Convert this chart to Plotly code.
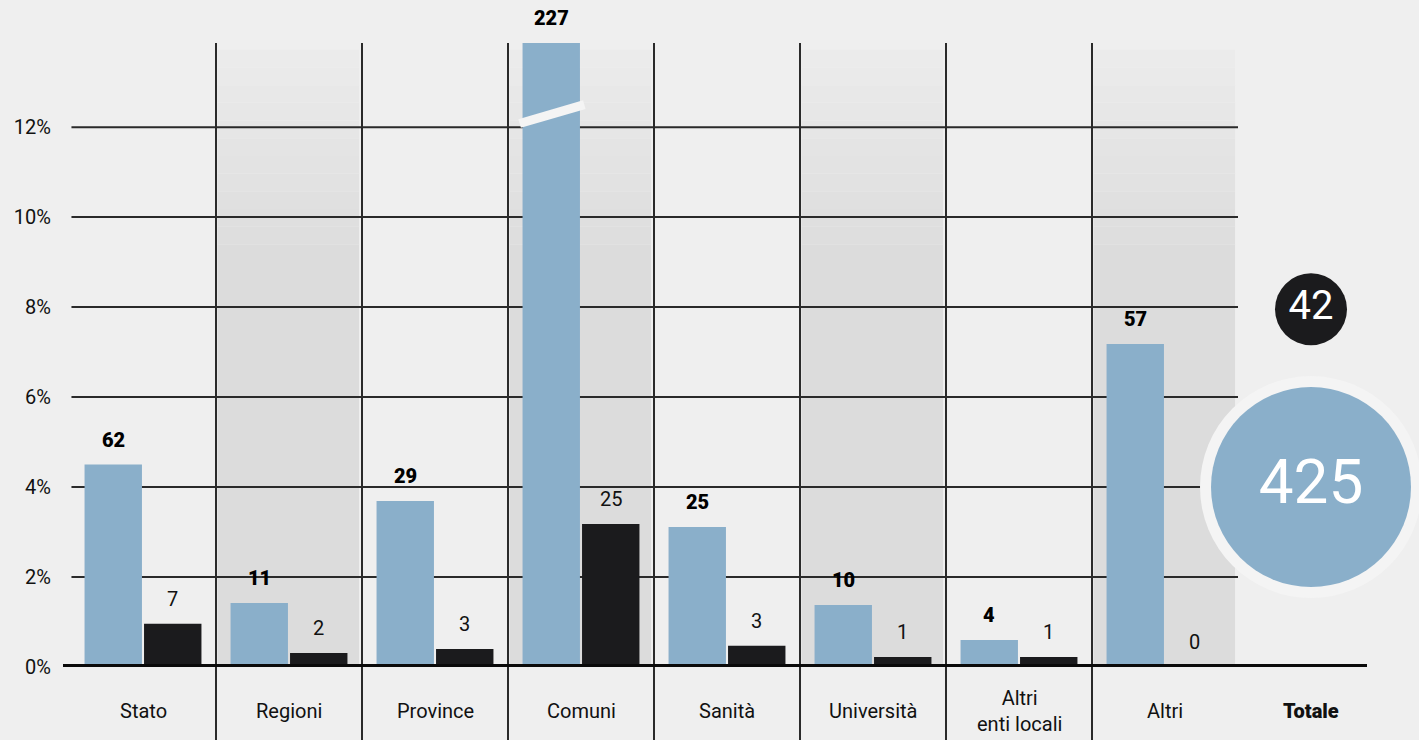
import plotly.graph_objects as go

# ---- data ----
categories = ["Stato", "Regioni", "Province", "Comuni", "Sanità", "Università", "Altri<br>enti locali", "Altri"]
total_label = "Totale"
blue_pct = [4.5, 1.42, 3.69, 15.0, 3.11, 1.38, 0.6, 7.18]   # Comuni bar is broken (off scale)
black_pct = [0.96, 0.31, 0.4, 3.18, 0.47, 0.22, 0.22, 0.0]
blue_n = [62, 11, 29, 227, 25, 10, 4, 57]
black_n = [7, 2, 3, 25, 3, 1, 1, 0]
totals = [425, 42]
y_ticks = [0, 2, 4, 6, 8, 10, 12]

# ---- style ----
BLUE = "#8aafca"
BLACK = "#1b1b1d"
BG = "#efefef"
SHADE = "#dcdcdc"
FONT = "Roboto, Arial, sans-serif"
YMAX = 13.87
W, H = 1419, 740
ML, MR, MT, MB = 70, 35, 43, 73

all_cats = categories + [total_label]
ncat = len(all_cats)
plot_w = W - ML - MR
plot_h = H - MT - MB
cat_px = plot_w / ncat
BARGAP = 0.185
GROUPGAP = 0.035
slot = (1 - BARGAP) / 2
off = slot / 2  # center offset in category units

fig = go.Figure()
fig.add_trace(go.Bar(x=categories, y=blue_pct, marker_color=BLUE, marker_line_width=0, name="blue",
                     showlegend=False, hoverinfo="skip"))
fig.add_trace(go.Bar(x=categories, y=black_pct, marker_color=BLACK, marker_line_width=0, name="black",
                     showlegend=False, hoverinfo="skip"))

# totals circles
fig.add_trace(go.Scatter(x=[total_label], y=[4.0], mode="markers",
                         marker=dict(size=222, color="#f4f4f4", line_width=0, opacity=1),
                         cliponaxis=False, showlegend=False, hoverinfo="skip"))
fig.add_trace(go.Scatter(x=[total_label, total_label], y=[4.0, 7.95], mode="markers+text",
                         marker=dict(size=[200, 72], color=[BLUE, BLACK], line_width=0, opacity=1),
                         text=[str(totals[0]), str(totals[1])],
                         textposition="middle center",
                         textfont=dict(family=FONT, size=[62, 40], color="white"),
                         cliponaxis=False, showlegend=False, hoverinfo="skip"))

shapes = []
# shaded columns (with fade to the top)
for i in [1, 3, 5, 7]:
    x0, x1 = i - 0.5 + 0.01, i + 0.5 - 0.02
    shapes.append(dict(type="rect", xref="x", yref="y", x0=x0, x1=x1, y0=0, y1=9,
                       fillcolor=SHADE, line_width=0, layer="below"))
    steps = 12
    for s in range(steps):
        ya = 9 + (YMAX - 0.15 - 9) * s / steps
        yb = 9 + (YMAX - 0.15 - 9) * (s + 1) / steps
        t = (s + 0.5) / steps
        c = int(220 + (236 - 220) * t)
        shapes.append(dict(type="rect", xref="x", yref="y", x0=x0, x1=x1, y0=ya, y1=yb,
                           fillcolor=f"rgb({c},{c},{c})", line_width=0, layer="below"))
# horizontal gridlines
for v in y_ticks[1:]:
    shapes.append(dict(type="line", xref="x", yref="y", x0=-0.49, x1=len(categories) - 0.5, y0=v, y1=v,
                       line=dict(color="#2a2a2a", width=2), layer="below"))
# vertical separators (between the bar categories only)
for k in range(1, len(categories)):
    shapes.append(dict(type="line", xref="x", yref="paper", x0=k - 0.5, x1=k - 0.5, y0=-MB / plot_h, y1=1,
                       line=dict(color="#2a2a2a", width=2), layer="below"))
# zero baseline
shapes.append(dict(type="line", xref="paper", yref="y", x0=-7 / plot_w, x1=(1367 - ML) / plot_w, y0=0, y1=0,
                   line=dict(color="#0a0a0a", width=6), layer="above"))
# break on the off-scale bar
ci = blue_pct.index(max(blue_pct))
cx = ci - off
hw = slot * (1 - GROUPGAP) / 2
shapes.append(dict(type="line", xref="x", yref="y", x0=cx - hw - 0.02, x1=cx + hw + 0.03, y0=12.08, y1=12.5,
                   line=dict(color="#f4f4f4", width=9), layer="above"))

annotations = []
for i, c in enumerate(categories):
    annotations.append(dict(x=c, y=min(blue_pct[i], YMAX), xref="x", yref="y", xshift=-off * cat_px,
                            yshift=11, yanchor="bottom", showarrow=False,
                            text=str(blue_n[i]), font=dict(family=FONT, size=20, color="#000", weight=900)))
    annotations.append(dict(x=c, y=black_pct[i], xref="x", yref="y", xshift=off * cat_px,
                            yshift=11, yanchor="bottom", showarrow=False,
                            text=str(black_n[i]), font=dict(family=FONT, size=20, color="#111")))
for c in all_cats:
    bold = c == total_label
    annotations.append(dict(x=c, y=0, xref="x", yref="y", yshift=-44, yanchor="middle", showarrow=False,
                            text=c, font=dict(family=FONT, size=20, color="#111", weight=900 if bold else 400)))

fig.update_layout(
    width=W, height=H,
    margin=dict(l=ML, r=MR, t=MT, b=MB),
    paper_bgcolor=BG, plot_bgcolor=BG,
    barmode="group", bargap=BARGAP, bargroupgap=GROUPGAP,
    shapes=shapes, annotations=annotations,
    showlegend=False,
    xaxis=dict(type="category", categoryorder="array", categoryarray=all_cats,
               range=[-0.5, ncat - 0.5], showticklabels=False, showgrid=False, zeroline=False,
               fixedrange=True),
    yaxis=dict(range=[0, YMAX], tickvals=y_ticks, ticktext=[f"{v}%" for v in y_ticks],
               showgrid=False, zeroline=False, ticks="", ticklabelstandoff=18,
               tickfont=dict(family=FONT, size=20, color="#111"), fixedrange=True),
    font=dict(family=FONT),
)

fig.write_html("out.html", config={"displayModeBar": False},
               post_script="document.body.style.margin='0';document.body.style.background='#efefef';")
